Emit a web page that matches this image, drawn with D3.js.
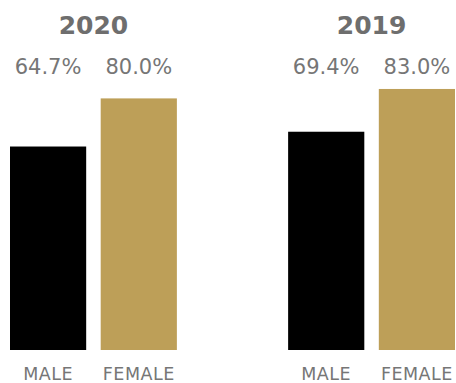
<!DOCTYPE html>
<html>
<head>
<meta charset="utf-8">
<script src="https://cdn.jsdelivr.net/npm/d3@7"></script>
<style>
  body { margin: 0; background: #fff; }
  svg text { font-family: "DejaVu Sans", sans-serif; fill: #767676; }
</style>
</head>
<body>
<svg id="chart" width="456" height="383"></svg>
<script>
// values
const years = ["2020", "2019"];
const genders = ["MALE", "FEMALE"];
const values2020 = [64.7, 80.0];
const values2019 = [69.4, 83.0];
const barColors = ["#000000", "#bd9f58"];

const rows = [
  { year: "2020", values: values2020 },
  { year: "2019", values: values2019 }
];

const svg = d3.select("#chart");

const x0 = d3.scaleBand().domain(years).range([10, 455]).paddingInner(0.40);
const x1 = d3.scaleBand().domain(genders).range([0, x0.bandwidth()]).paddingInner(0.16);
const y = d3.scaleLinear().domain([0, 100]).range([350, 35.5]);
const color = d3.scaleOrdinal().domain(genders).range(barColors);

const groups = svg.selectAll("g.year")
  .data(rows)
  .enter().append("g")
  .attr("class", "year")
  .attr("transform", d => `translate(${x0(d.year)},0)`);

// year title
groups.append("text")
  .attr("x", x0.bandwidth() / 2)
  .attr("y", 34)
  .attr("text-anchor", "middle")
  .style("font-size", "25px")
  .style("font-weight", "bold")
  .style("fill", "#6e6e6e")
  .text(d => d.year);

const cells = groups.selectAll("g.bar")
  .data(d => d.values.map((v, i) => ({ gender: genders[i], value: v })))
  .enter().append("g")
  .attr("class", "bar");

cells.append("rect")
  .attr("x", d => x1(d.gender))
  .attr("y", d => y(d.value))
  .attr("width", x1.bandwidth())
  .attr("height", d => y(0) - y(d.value))
  .attr("fill", d => color(d.gender));

// value labels
cells.append("text")
  .attr("x", d => x1(d.gender) + x1.bandwidth() / 2)
  .attr("y", 74)
  .attr("text-anchor", "middle")
  .style("font-size", "21px")
  .text(d => d.value.toFixed(1) + "%");

// category labels
cells.append("text")
  .attr("x", d => x1(d.gender) + x1.bandwidth() / 2)
  .attr("y", 380)
  .attr("text-anchor", "middle")
  .style("font-size", "17.5px")
  .style("letter-spacing", "0.5px")
  .text(d => d.gender);
</script>
</body>
</html>
